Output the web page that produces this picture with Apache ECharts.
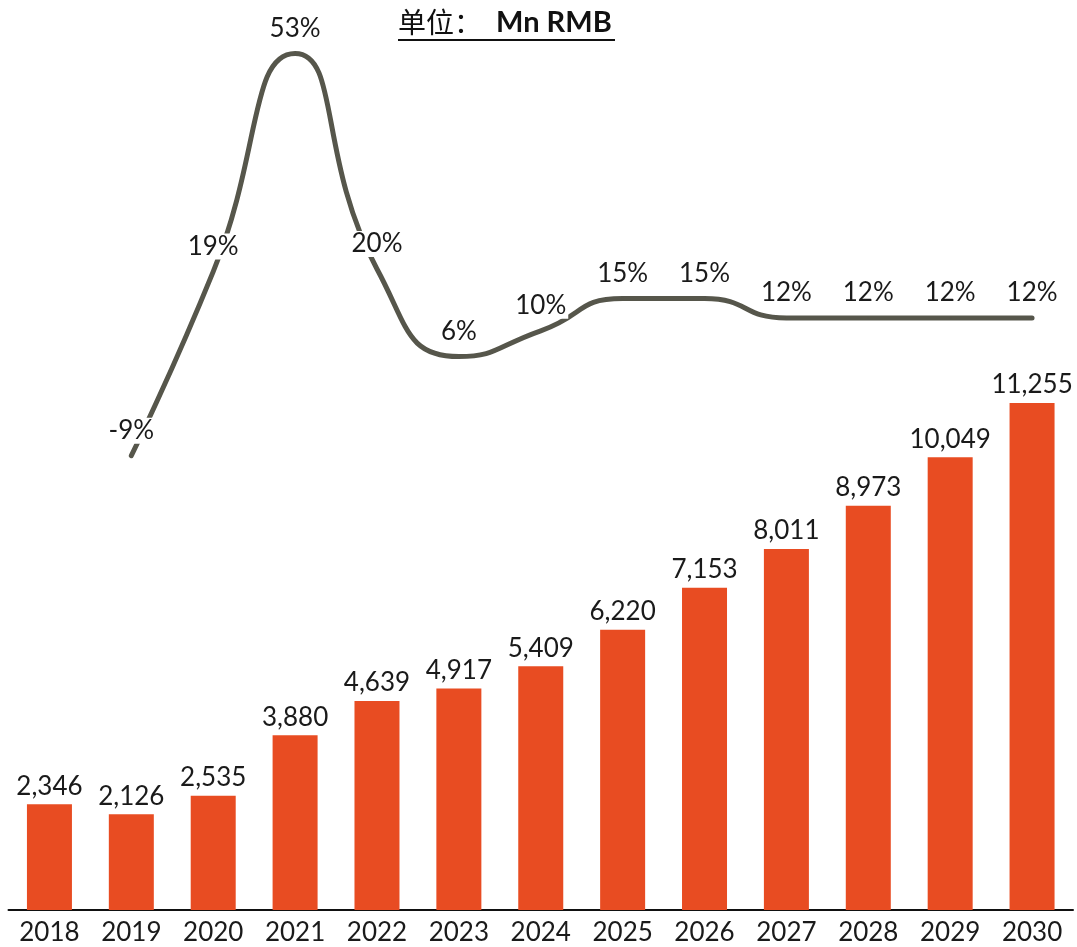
<!DOCTYPE html>
<html>
<head>
<meta charset="utf-8">
<script src="https://cdn.jsdelivr.net/npm/echarts@6/dist/echarts.min.js"></script>
<style>
html,body{margin:0;padding:0;background:#fff;}
#chart{width:1077px;height:947px;}
</style>
</head>
<body>
<div id="chart"></div>
<script>
const years = ['2018','2019','2020','2021','2022','2023','2024','2025','2026','2027','2028','2029','2030'];
const revenue = [2346,2126,2535,3880,4639,4917,5409,6220,7153,8011,8973,10049,11255];
const growth = ['-',-9.4,19.2,53.1,19.6,6.0,10.0,15.0,15.0,12.0,12.0,12.0,12.0];
const unitLabelCn = '单位：';
const unitLabelEn = 'Mn RMB';

const FONT = 'Lato, "Noto Sans", sans-serif';
const chart = echarts.init(document.getElementById('chart'), null, {renderer:'canvas'});
chart.setOption({
  animation:false,
  backgroundColor:'#fff',
  grid:{left:8.5, right:4, top:9, bottom:37, containLabel:false},
  xAxis:{
    type:'category', data:years,
    axisLine:{show:true, lineStyle:{color:'#111', width:2}},
    axisTick:{show:false},
    axisLabel:{color:'#1a1a1a', fontSize:26, fontFamily:FONT, margin:10, interval:0}
  },
  yAxis:[
    {type:'value', min:0, max:20000, show:false, splitLine:{show:false}},
    {type:'value', min:-80, max:60, show:false, splitLine:{show:false}}
  ],
  series:[
    {
      type:'bar', data:revenue, yAxisIndex:0, barWidth:45,
      itemStyle:{color:'#E84C22'},
      label:{show:true, position:'top', distance:5, color:'#1a1a1a', fontSize:26, fontFamily:FONT,
        formatter:p=>p.value.toLocaleString('en-US')}
    },
    {
      type:'line', data:growth, yAxisIndex:1, smooth:0.55, showSymbol:true, symbol:'circle', symbolSize:2,
      itemStyle:{color:'#56564B'},
      lineStyle:{color:'#56564B', width:5, cap:'round'},
      label:{show:true, position:'top', distance:11, color:'#1a1a1a', fontSize:26, fontFamily:FONT,
        backgroundColor:'#fff', padding:[0,2],
        formatter:p=>Math.round(p.value)+'%'},
      labelLayout:{hideOverlap:false},
      z:3
    }
  ],
  graphic:[
    {type:'text', left:398, top:8, style:{
      text:'{a|'+unitLabelCn+'}{b|'+unitLabelEn+'}',
      rich:{
        a:{fontSize:28, fontFamily:'"Noto Sans CJK SC", sans-serif', fill:'#111', fontWeight:'normal', width:98},
        b:{fontSize:29, fontFamily:'Lato, "Noto Sans", sans-serif', fill:'#111', fontWeight:'bold'}
      }
    }},
    {type:'line', shape:{x1:398, y1:40, x2:615, y2:40}, style:{stroke:'#111', lineWidth:2}}
  ]
});
</script>
</body>
</html>
